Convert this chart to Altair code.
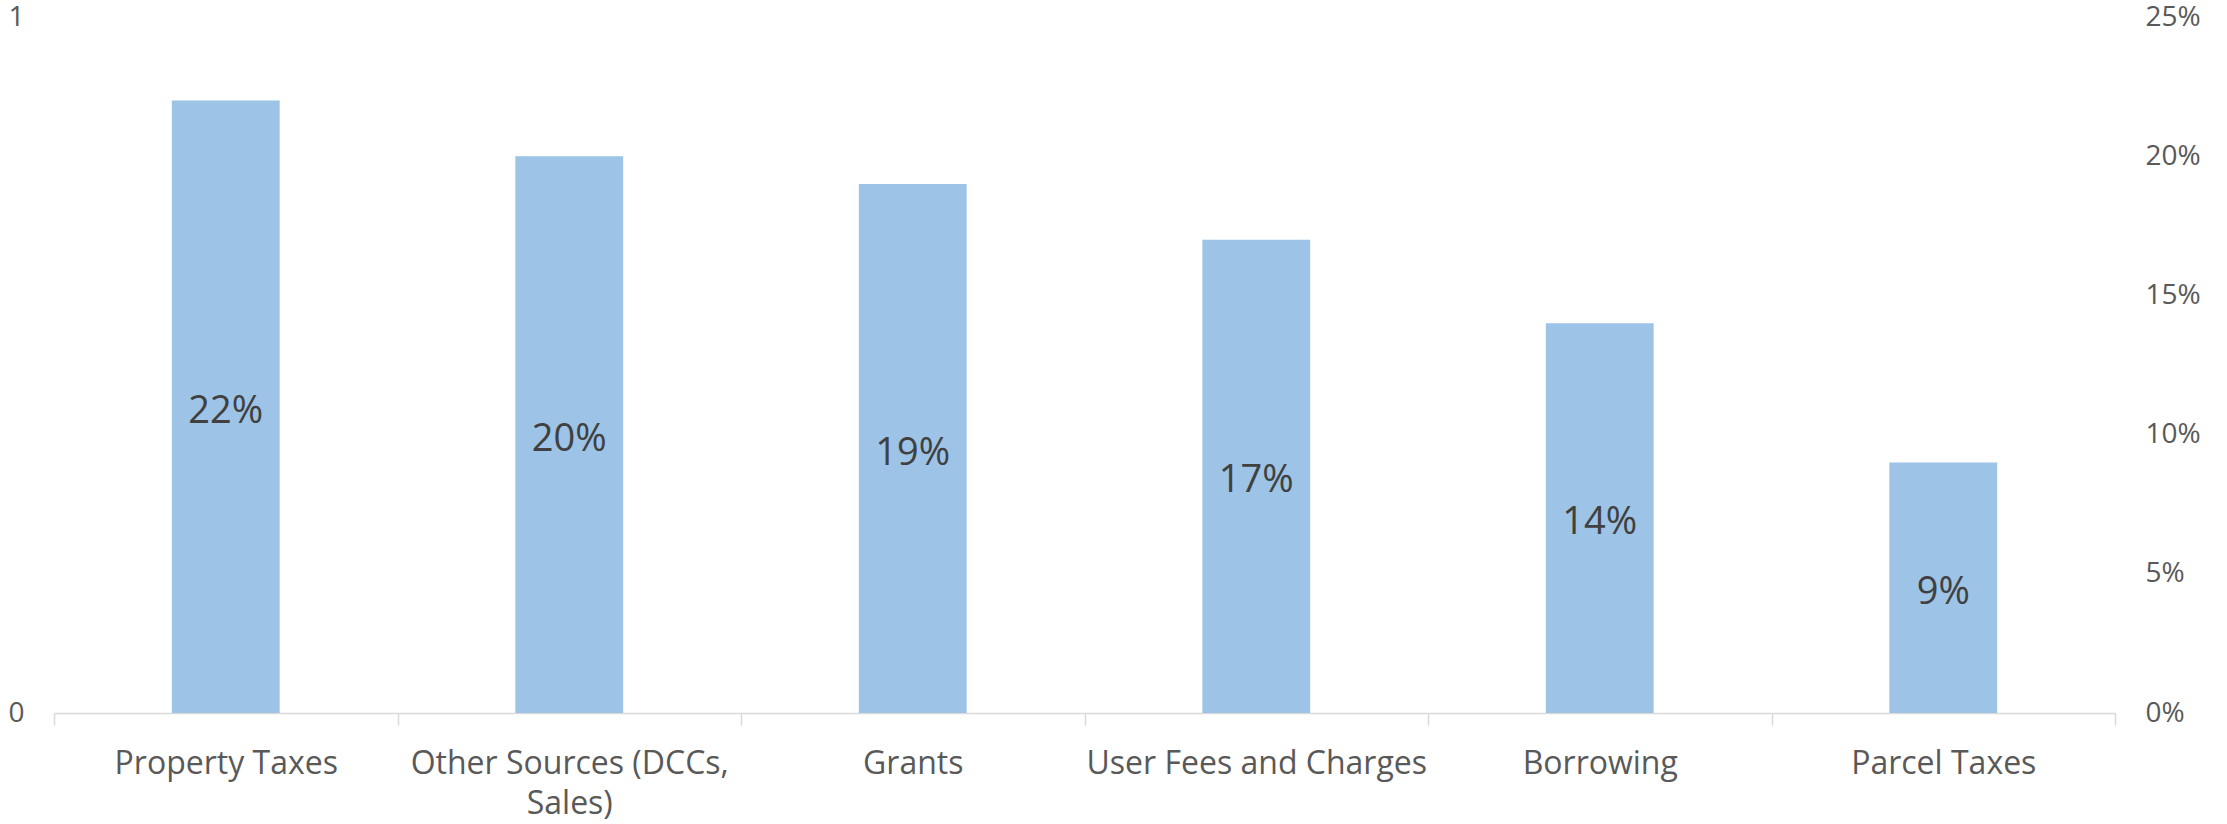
import altair as alt
import pandas as pd

categories = ["Property Taxes", "Other Sources (DCCs, Sales)", "Grants",
              "User Fees and Charges", "Borrowing", "Parcel Taxes"]
shares = [0.22, 0.20, 0.19, 0.17, 0.14, 0.09]
right_ticks = [0, 0.05, 0.10, 0.15, 0.20, 0.25]
left_ticks = [0, 1]

df = pd.DataFrame({"cat": categories, "share": shares})
df["mid"] = df["share"] / 2
df["dummy"] = 0.0

FONT = "Open Sans"
LABEL = "#595959"

xenc = alt.X(
    "cat:N", sort=categories,
    scale=alt.Scale(paddingInner=0, paddingOuter=0),
    axis=alt.Axis(
        title=None, labelAngle=0, domainColor="#d9d9d9", domainWidth=1.5,
        tickColor="#d9d9d9", tickWidth=1.5, tickSize=12, tickBand="extent",
        labelFontSize=32, labelColor=LABEL, labelFont=FONT, labelPadding=23,
        labelLineHeight=40, labelLimit=400,
        labelExpr="datum.label == 'Other Sources (DCCs, Sales)' ? ['Other Sources (DCCs,', 'Sales)'] : datum.label",
    ),
)

yscale = alt.Scale(domain=[0, 0.25])
bars = alt.Chart(df).mark_bar(color="#9DC3E6", width=alt.RelativeBandSize(0.314)).encode(
    x=xenc,
    y=alt.Y("share:Q", scale=yscale, axis=alt.Axis(
        orient="right", title=None, format=".0%", values=right_ticks,
        domain=False, ticks=False, grid=False, labelFontSize=28,
        labelColor=LABEL, labelFont=FONT, labelPadding=30)),
)
text = alt.Chart(df).mark_text(fontSize=38, color="#404040", font=FONT, dy=5).encode(
    x=alt.X("cat:N", sort=categories),
    y=alt.Y("mid:Q", scale=yscale),
    text=alt.Text("share:Q", format=".0%"),
)
left = alt.Chart(df).mark_point(opacity=0).encode(
    x=alt.X("cat:N", sort=categories),
    y=alt.Y("dummy:Q", scale=alt.Scale(domain=[0, 1]), axis=alt.Axis(
        orient="left", title=None, values=left_ticks, format="d", domain=False,
        ticks=False, grid=False, labelFontSize=28, labelColor=LABEL,
        labelFont=FONT, labelPadding=30)),
)

chart = alt.layer(alt.layer(bars, text), left).resolve_scale(y="independent").properties(
    width=2061, height=696,
    autosize=alt.AutoSizeParams(type="none"),
    padding={"left": 54, "top": 17, "right": 112, "bottom": 111},
).configure_axis(grid=False).configure_view(stroke=None)

chart.save("out.html", embed_options={"renderer": "svg", "actions": False})
